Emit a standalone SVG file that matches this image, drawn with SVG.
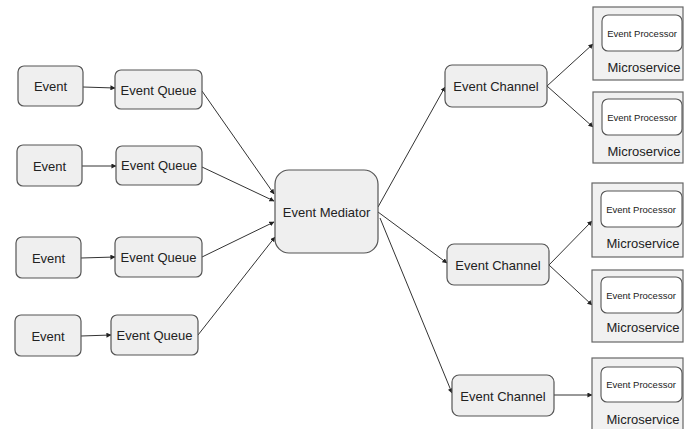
<svg xmlns="http://www.w3.org/2000/svg" width="684" height="429" viewBox="0 0 684 429">
<defs>
<style>
.n{fill:#efefef;stroke:#555;stroke-width:1.2}
.ms{fill:#f1f1f1;stroke:#666;stroke-width:1.2}
.ep{fill:#fff;stroke:#555;stroke-width:1.1}
.t{font-family:"Liberation Sans",Arial,sans-serif;font-size:13px;fill:#222;text-anchor:middle;dominant-baseline:central}
.s{font-family:"Liberation Sans",Arial,sans-serif;font-size:9.5px;fill:#222;text-anchor:middle;dominant-baseline:central}
.c{stroke:#333;stroke-width:1;fill:none;marker-end:url(#a)}
</style>
<marker id="a" viewBox="0 0 6 6" refX="5.5" refY="3" markerWidth="5" markerHeight="5" orient="auto" markerUnits="userSpaceOnUse"><path d="M0,0L6,3L0,6z" fill="#222"/></marker>
</defs>
<rect width="684" height="429" fill="#fff"/>
<g id="connectors">
<line class="c" x1="83" y1="87" x2="115" y2="88"/>
<line class="c" x1="82" y1="166" x2="116" y2="166"/>
<line class="c" x1="81" y1="258" x2="115" y2="257"/>
<line class="c" x1="81" y1="336" x2="111" y2="335"/>
<line class="c" x1="202" y1="91" x2="274" y2="194"/>
<line class="c" x1="202" y1="167" x2="274" y2="201"/>
<line class="c" x1="202" y1="257" x2="274" y2="222"/>
<line class="c" x1="198" y1="335" x2="275" y2="237"/>
<line class="c" x1="378" y1="207" x2="445" y2="87"/>
<line class="c" x1="378" y1="212" x2="447" y2="263"/>
<line class="c" x1="380" y1="218" x2="452" y2="393"/>
<line class="c" x1="547" y1="86" x2="593" y2="44"/>
<line class="c" x1="547" y1="86" x2="593" y2="127"/>
<line class="c" x1="549" y1="265" x2="592" y2="221"/>
<line class="c" x1="549" y1="265" x2="592" y2="305"/>
<line class="c" x1="554" y1="395" x2="592" y2="395"/>
</g>
<g id="event1"><rect class="n" x="18" y="66" width="65" height="40" rx="6"/><text class="t" x="50.5" y="86">Event</text></g>
<g id="event2"><rect class="n" x="17" y="145" width="65" height="41" rx="6"/><text class="t" x="49.5" y="166">Event</text></g>
<g id="event3"><rect class="n" x="16" y="237" width="65" height="41" rx="6"/><text class="t" x="48.5" y="258">Event</text></g>
<g id="event4"><rect class="n" x="15" y="315" width="66" height="41" rx="6"/><text class="t" x="48" y="336">Event</text></g>
<g id="queue1"><rect class="n" x="115" y="70" width="87" height="39" rx="6"/><text class="t" x="158.5" y="90">Event Queue</text></g>
<g id="queue2"><rect class="n" x="116" y="146" width="86" height="39" rx="6"/><text class="t" x="159" y="165">Event Queue</text></g>
<g id="queue3"><rect class="n" x="115" y="237" width="87" height="40" rx="6"/><text class="t" x="158.5" y="257">Event Queue</text></g>
<g id="queue4"><rect class="n" x="111" y="315" width="87" height="40" rx="6"/><text class="t" x="154.5" y="335">Event Queue</text></g>
<g id="mediator"><rect class="n" x="275" y="170" width="103" height="83" rx="14"/><text class="t" x="326.5" y="212">Event Mediator</text></g>
<g id="channel1"><rect class="n" x="445" y="65" width="102" height="42" rx="7"/><text class="t" x="496" y="86">Event Channel</text></g>
<g id="channel2"><rect class="n" x="447" y="244" width="102" height="41" rx="7"/><text class="t" x="498" y="265">Event Channel</text></g>
<g id="channel3"><rect class="n" x="452" y="375" width="102" height="41" rx="7"/><text class="t" x="503" y="396">Event Channel</text></g>
<g id="ms1"><rect class="ms" x="593" y="7" width="90" height="73"/><rect class="ep" x="602" y="15" width="80" height="36" rx="6"/><text class="s" x="642" y="33">Event Processor</text><text class="t" x="644" y="67">Microservice</text></g>
<g id="ms2"><rect class="ms" x="593" y="92" width="90" height="71"/><rect class="ep" x="602" y="99" width="80" height="36" rx="6"/><text class="s" x="642" y="117">Event Processor</text><text class="t" x="644" y="151">Microservice</text></g>
<g id="ms3"><rect class="ms" x="592" y="183" width="91" height="74"/><rect class="ep" x="601" y="191" width="81" height="36" rx="6"/><text class="s" x="641" y="209">Event Processor</text><text class="t" x="643" y="243">Microservice</text></g>
<g id="ms4"><rect class="ms" x="592" y="270" width="91" height="72"/><rect class="ep" x="601" y="277" width="81" height="36" rx="6"/><text class="s" x="641" y="295">Event Processor</text><text class="t" x="643" y="327">Microservice</text></g>
<g id="ms5"><rect class="ms" x="592" y="358" width="91" height="80"/><rect class="ep" x="601" y="367" width="81" height="35" rx="6"/><text class="s" x="641" y="384">Event Processor</text><text class="t" x="643" y="419">Microservice</text></g>
</svg>
